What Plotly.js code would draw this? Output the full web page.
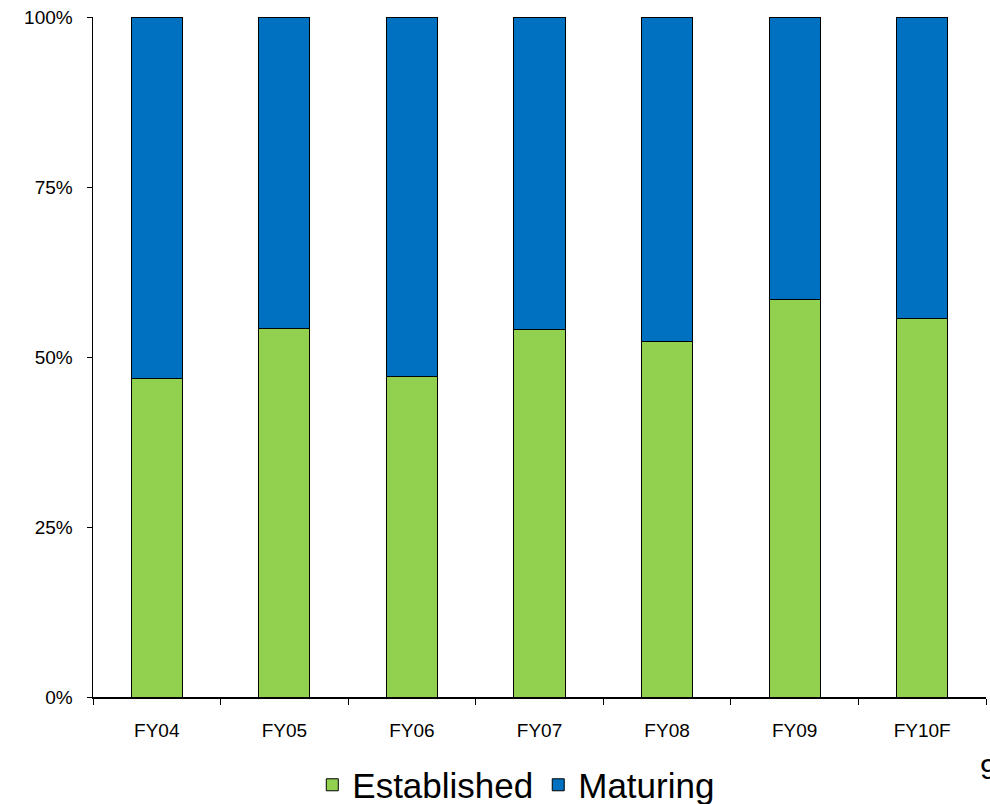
<!DOCTYPE html>
<html>
<head>
<meta charset="utf-8">
<script src="https://cdn.plot.ly/plotly-3.0.1.min.js"></script>
<style>html,body{margin:0;padding:0;background:#fff;}#chart{width:990px;height:804px;}</style>
</head>
<body>
<div id="chart"></div>
<script>
const categories = ["FY04", "FY05", "FY06", "FY07", "FY08", "FY09", "FY10F"];
const established = [0.468, 0.542, 0.471, 0.540, 0.523, 0.585, 0.556];
const maturing = established.map(v => 1 - v);
const yTickVals = [0, 0.25, 0.5, 0.75, 1];
const yTickText = ["0%", "25%", "50%", "75%", "100%"];

const traces = [
  {type: "bar", name: "Established", x: categories, y: established,
   marker: {color: "#92D050", line: {color: "#000000", width: 1}}},
  {type: "bar", name: "Maturing", x: categories, y: maturing,
   marker: {color: "#0070C0", line: {color: "#000000", width: 1}}}
];

const layout = {
  width: 990, height: 804,
  paper_bgcolor: "#ffffff", plot_bgcolor: "#ffffff",
  margin: {l: 93, r: 4, t: 17, b: 107},
  barmode: "stack", bargap: 0.6,
  font: {family: "Liberation Sans, Arial, sans-serif", color: "#000000", size: 19},
  showlegend: true,
  legend: {orientation: "h", x: 0.474, xanchor: "center", xref: "paper",
           y: 0.0236, yanchor: "middle", yref: "container",
           font: {size: 35}, traceorder: "normal", itemwidth: 30},
  xaxis: {type: "category", showline: true, linecolor: "#000", linewidth: 1.5,
          ticks: "outside", tickson: "boundaries", ticklen: 6, tickcolor: "#000",
          showgrid: false, zeroline: false, tickfont: {size: 19}, automargin: false,
          ticklabelstandoff: 16},
  yaxis: {range: [0, 1], tickvals: yTickVals, ticktext: yTickText, showline: true,
          linecolor: "#000", linewidth: 1.5, ticks: "outside", ticklen: 5, tickcolor: "#000",
          showgrid: false, zeroline: false, tickfont: {size: 19}, ticklabelstandoff: 10,
          automargin: false},
  annotations: [
    {text: "9", xref: "paper", yref: "paper", x: 0.991, y: -0.105, xanchor: "left",
     yanchor: "middle", showarrow: false, font: {size: 30, color: "#000"}}
  ]
};

Plotly.newPlot("chart", traces, layout, {displayModeBar: false, staticPlot: true});
</script>
</body>
</html>
